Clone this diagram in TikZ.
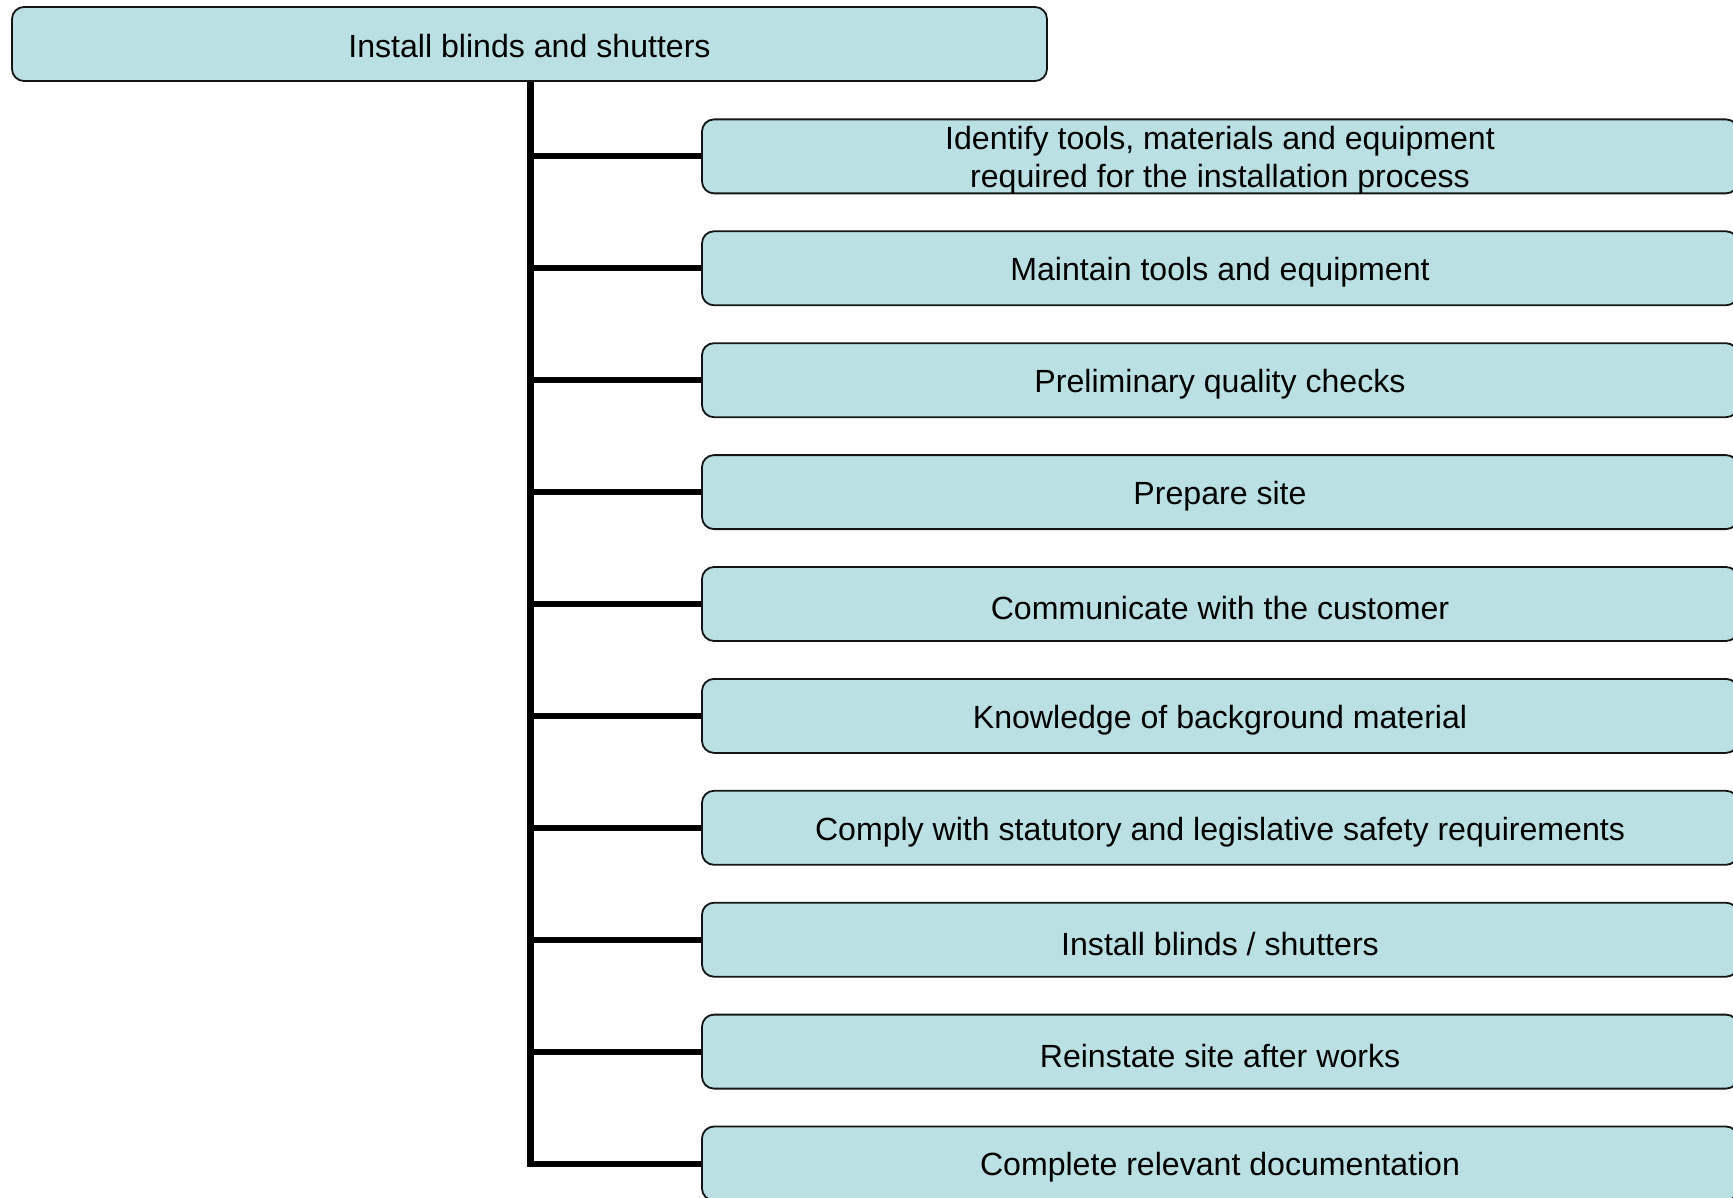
\documentclass[tikz,border=0pt]{standalone}
\usepackage{fontspec}
\setmainfont{Liberation Sans}
\definecolor{boxfill}{RGB}{186,224,227}
\definecolor{boxline}{RGB}{20,20,20}
\tikzset{
  boxlabel/.style={inner sep=0pt, align=center, yshift=-4pt,
    font=\fontsize{32.1pt}{37.6pt}\selectfont},
  taskbox/.style={draw=boxline, line width=1.8pt, fill=boxfill, rounded corners=12pt,
    minimum width=1036pt, minimum height=74pt, inner sep=0pt},
  headbox/.style={taskbox, minimum width=1035pt},
  trunkline/.style={line width=7pt, black},
  branchline/.style={line width=6pt, black},
}
\begin{document}
\begin{tikzpicture}[x=1pt,y=1pt]
\useasboundingbox (0,0) rectangle (1733,-1198);
\clip (0,0) rectangle (1733,-1198);
\node[headbox, label={[boxlabel, yshift=2pt]center:Install blinds and shutters}] (top) at (529.5,-44) {};
\foreach \n/\t [count=\k from 0] in {
  c1/{Identify tools, materials and equipment\\required for the installation process},
  c2/{Maintain tools and equipment},
  c3/{Preliminary quality checks},
  c4/{Prepare site},
  c5/{Communicate with the customer},
  c6/{Knowledge of background material},
  c7/{Comply with statutory and legislative safety requirements},
  c8/{Install blinds / shutters},
  c9/{Reinstate site after works},
  c10/{Complete relevant documentation}}
{
  \node[taskbox, label={[boxlabel]center:\t}] (\n) at (1220,-156.4-111.9*\k) {};
}
\draw[trunkline] (top.south -| 530.5,0) -- (530.5,-1167);
\foreach \n in {c1,c2,c3,c4,c5,c6,c7,c8,c9,c10}{
  \draw[branchline] (\n.west -| 527,0) -- (\n.west);
}
\end{tikzpicture}
\end{document}
